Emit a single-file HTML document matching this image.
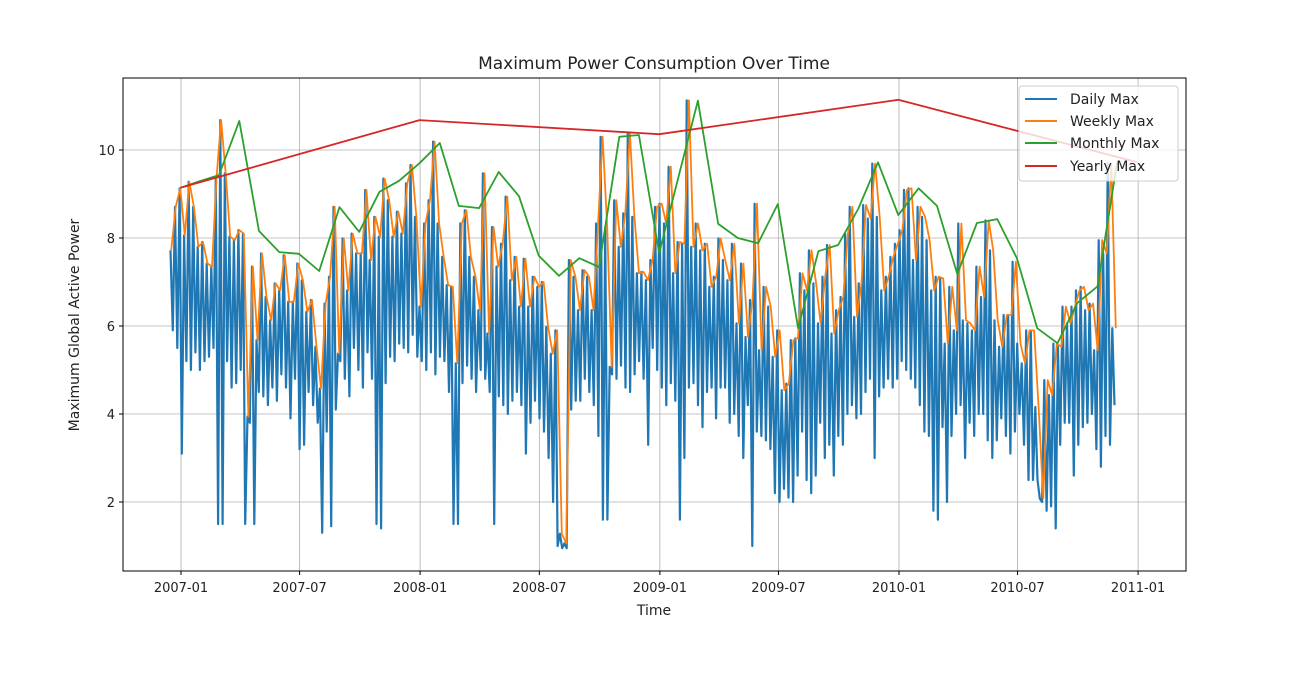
<!DOCTYPE html>
<html><head><meta charset="utf-8"><style>
body{margin:0;background:#fff;}
svg text{font-family:"DejaVu Sans","Liberation Sans",sans-serif;fill:#222;}
</style></head><body>
<svg id="chart" width="1289" height="668" viewBox="0 0 1289 668" xmlns="http://www.w3.org/2000/svg">
<rect width="1289" height="668" fill="#fff"/>
<g id="grid"></g>
<g id="series"></g>
<rect x="123" y="78" width="1063" height="493" fill="none" stroke="#000" stroke-width="1"/>
<g id="ticks"></g>
<text x="654" y="69" font-size="17" text-anchor="middle">Maximum Power Consumption Over Time</text>
<text x="654" y="615" font-size="14" text-anchor="middle">Time</text>
<text x="79" y="325" font-size="14" text-anchor="middle" transform="rotate(-90 79 325)">Maximum Global Active Power</text>
<g>
<rect x="1019" y="86" width="159" height="95" rx="3" fill="#fff" fill-opacity="0.8" stroke="#ccc"/>
<line x1="1025" y1="99" x2="1057" y2="99" stroke="#1f77b4" stroke-width="2"/><text x="1070" y="104" font-size="14">Daily Max</text>
<line x1="1025" y1="121" x2="1057" y2="121" stroke="#ff7f0e" stroke-width="2"/><text x="1070" y="126" font-size="14">Weekly Max</text>
<line x1="1025" y1="143" x2="1057" y2="143" stroke="#2ca02c" stroke-width="2"/><text x="1070" y="148" font-size="14">Monthly Max</text>
<line x1="1025" y1="166" x2="1057" y2="166" stroke="#d62728" stroke-width="2"/><text x="1070" y="171" font-size="14">Yearly Max</text>
</g>
</svg>
<script>
const xTickLabels=["2007-01","2007-07","2008-01","2008-07","2009-01","2009-07","2010-01","2010-07","2011-01"];
const yTicks=[2,4,6,8,10];
const weeklyMax=[7.72,8.71,9.13,8.06,9.28,8.71,7.8,7.91,7.42,7.35,9.39,10.68,9.47,8.03,7.95,8.18,8.1,3.94,7.35,5.68,7.65,6.66,6.13,6.97,6.81,7.61,6.55,6.55,7.42,7.04,6.32,6.59,5.53,4.58,6.51,
7.12,8.71,5.37,7.99,6.81,8.1,7.65,7.65,9.09,7.5,8.48,8.03,9.35,8.86,8.03,8.6,8.1,9.24,9.66,8.48,6.44,8.33,8.86,10.19,8.33,7.57,6.93,6.89,5.15,8.33,8.63,7.57,7.12,6.36,9.47,
5.83,8.25,7.35,7.87,8.94,7.04,7.57,6.44,7.53,6.44,7.12,6.89,7.0,5.98,5.37,5.9,1.28,1.06,7.5,7.12,6.36,7.27,7.12,6.36,8.33,10.3,8.25,5.07,8.86,7.8,8.56,10.38,8.48,7.2,
7.23,7.04,7.5,8.71,8.78,8.33,9.62,7.2,7.91,7.87,11.13,7.8,8.33,7.72,7.87,6.89,7.12,7.99,7.5,7.04,7.87,6.06,7.42,5.75,6.59,8.78,5.45,6.89,6.44,5.3,5.9,4.54,4.69,5.68,5.72,7.2,
6.81,7.72,6.97,6.06,7.12,7.84,5.83,6.36,6.66,8.1,8.71,6.21,6.97,8.75,8.44,9.69,8.48,6.81,7.12,7.57,7.87,8.18,9.09,9.13,7.5,8.71,8.48,7.95,6.81,7.12,7.08,5.6,6.89,5.9,8.33,6.13,
6.06,5.9,7.35,6.66,8.4,7.72,6.13,5.53,6.25,6.25,7.46,5.6,5.15,5.9,5.9,4.16,2.08,4.77,4.43,5.6,5.53,6.44,6.06,6.44,6.81,6.89,6.36,6.51,5.45,7.95,7.65,9.7,5.95];
const dailyMax=[7.72,5.9,8.71,5.5,9.13,3.1,8.06,5.2,9.28,5.0,8.71,5.4,7.8,5.0,7.91,5.2,7.42,5.3,7.35,5.5,9.39,1.5,10.68,1.5,9.47,5.2,8.03,4.6,7.95,4.7,8.18,5.0,8.1,1.5,3.94,3.8,7.35,1.5,5.68,4.5,7.65,4.4,6.66,4.2,6.13,4.6,6.97,4.3,6.81,4.9,7.61,4.6,6.55,3.9,6.55,4.8,7.42,3.2,7.04,3.3,6.32,4.5,6.59,4.2,5.53,3.8,4.58,1.3,6.51,3.6,
7.12,1.45,8.71,4.1,5.37,5.2,7.99,4.8,6.81,4.4,8.1,5.5,7.65,5.0,7.65,4.6,9.09,5.4,7.5,4.8,8.48,1.5,8.03,1.4,9.35,4.7,8.86,5.3,8.03,5.2,8.6,5.6,8.1,5.5,9.24,5.4,9.66,5.8,8.48,5.3,6.44,5.2,8.33,5.0,8.86,5.4,10.19,4.9,8.33,5.3,7.57,5.2,6.93,4.5,6.89,1.5,5.15,1.5,8.33,4.7,8.63,5.1,7.57,4.8,7.12,4.5,6.36,5.0,9.47,4.8,
5.83,4.5,8.25,1.5,7.35,4.4,7.87,4.2,8.94,4.0,7.04,4.3,7.57,4.5,6.44,4.2,7.53,3.1,6.44,3.8,7.12,4.3,6.89,3.9,7.0,3.6,5.98,3.0,5.37,2.0,5.9,1.0,1.28,0.95,1.06,0.95,7.5,4.1,7.12,4.3,6.36,4.3,7.27,4.8,7.12,4.5,6.36,4.2,8.33,3.5,10.3,1.6,8.25,1.6,5.07,4.9,8.86,4.8,7.8,5.1,8.56,4.6,10.38,4.5,8.48,4.9,7.2,5.2,
7.23,4.8,7.04,3.3,7.5,5.5,8.71,5.0,8.78,4.6,8.33,4.2,9.62,4.7,7.2,4.3,7.91,1.6,7.87,3.0,11.13,4.6,7.8,4.7,8.33,4.2,7.72,3.7,7.87,4.5,6.89,4.6,7.12,3.9,7.99,4.6,7.5,4.6,7.04,3.8,7.87,4.0,6.06,3.5,7.42,3.0,5.75,4.2,6.59,1.0,8.78,3.6,5.45,3.5,6.89,3.4,6.44,3.2,5.3,2.2,5.9,2.0,4.54,2.3,4.69,2.1,5.68,2.0,5.72,2.6,7.2,3.6,
6.81,2.5,7.72,2.2,6.97,2.6,6.06,3.8,7.12,3.0,7.84,3.3,5.83,2.6,6.36,3.5,6.66,3.3,8.1,4.0,8.71,4.2,6.21,3.9,6.97,4.0,8.75,4.5,8.44,4.8,9.69,3.0,8.48,4.4,6.81,4.6,7.12,4.8,7.57,4.6,7.87,4.8,8.18,5.2,9.09,5.0,9.13,4.8,7.5,4.6,8.71,4.2,8.48,3.6,7.95,3.5,6.81,1.8,7.12,1.6,7.08,3.7,5.6,2.0,6.89,3.5,5.9,4.0,8.33,4.2,6.13,3.0,
6.06,3.8,5.9,3.5,7.35,4.0,6.66,4.0,8.4,3.4,7.72,3.0,6.13,3.4,5.53,3.9,6.25,3.5,6.25,3.1,7.46,3.6,5.6,4.0,5.15,3.3,5.9,2.5,5.9,2.5,4.16,2.5,2.08,2.0,4.77,1.8,4.43,1.9,5.6,1.4,5.53,3.3,6.44,3.8,6.06,3.8,6.44,2.6,6.81,3.3,6.89,3.7,6.36,3.8,6.51,4.0,5.45,3.2,7.95,2.8,7.65,3.5,9.7,3.3,5.95,4.2];
const monthlyMax=[9.14,9.3,9.43,10.66,8.16,7.68,7.64,7.25,8.7,8.14,9.05,9.3,9.7,10.16,8.73,8.68,9.5,8.95,7.6,7.14,7.54,7.34,10.3,10.34,7.66,9.48,11.12,8.32,8.0,7.88,8.77,5.95,7.7,7.84,8.67,9.72,8.52,9.13,8.73,7.18,8.34,8.43,7.54,5.95,5.61,6.52,6.9,9.72];
const yearlyMax=[9.14,10.68,10.36,11.14,9.72];
const years=[2006,2007,2008,2009,2010];

const NS="http://www.w3.org/2000/svg";
const DAY=86400000, T0=Date.UTC(2007,0,1);
function xScale(t){return 181+(t-T0)/DAY*0.6551;}
function yScale(v){return 590-v*44;}
function mk(tag,attrs,parent){const e=document.createElementNS(NS,tag);for(const k in attrs)e.setAttribute(k,attrs[k]);parent.appendChild(e);return e;}
const grid=document.getElementById('grid'),ticks=document.getElementById('ticks'),series=document.getElementById('series');
xTickLabels.forEach(s=>{const [y,m]=s.split('-').map(Number);const x=xScale(Date.UTC(y,m-1,1));
 const g=mk('line',{x1:x,x2:x,y1:78,y2:571,stroke:'#b0b0b0','stroke-width':0.8},grid);
 
 
 mk('line',{x1:x,x2:x,y1:571,y2:575,stroke:'#000'},ticks);
 const t=mk('text',{x:x,y:592,'font-size':13,'text-anchor':'middle'},ticks);t.textContent=s;
 
 });
yTicks.forEach(v=>{const y=yScale(v);
 const g=mk('line',{x1:123,x2:1186,y1:y,y2:y,stroke:'#b0b0b0','stroke-width':0.8},grid);
 
 
 mk('line',{x1:119,x2:123,y1:y,y2:y,stroke:'#000'},ticks);
 const t=mk('text',{x:115,y:y+5,'font-size':13,'text-anchor':'end'},ticks);t.textContent=v;
 
 });
function path(pts,color,w,name){const d=pts.map((p,i)=>(i?'L':'M')+p[0].toFixed(1)+','+p[1].toFixed(1)).join('');
 const e=mk('path',{d:d,fill:'none',stroke:color,'stroke-width':w,'stroke-linejoin':'round'},series);
 
 }
const dStart=Date.UTC(2006,11,16),dEnd=Date.UTC(2010,10,26);
path(dailyMax.map((v,i)=>[xScale(dStart+(dEnd-dStart)*i/(dailyMax.length-1)),yScale(v)]),'#1f77b4',2.2,'daily-max-line');
const wStart=Date.UTC(2006,11,17),wEnd=Date.UTC(2010,10,28);
path(weeklyMax.map((v,i)=>[xScale(wStart+(wEnd-wStart)*i/(weeklyMax.length-1)),yScale(v)]),'#ff7f0e',1.8,'weekly-max-line');
path(monthlyMax.map((v,i)=>[xScale(Date.UTC(2006,11+i+1,0)),yScale(v)]),'#2ca02c',1.8,'monthly-max-line');
path(yearlyMax.map((v,i)=>[xScale(Date.UTC(years[i],11,31)),yScale(v)]),'#d62728',1.8,'yearly-max-line');
</script>
</body></html>
